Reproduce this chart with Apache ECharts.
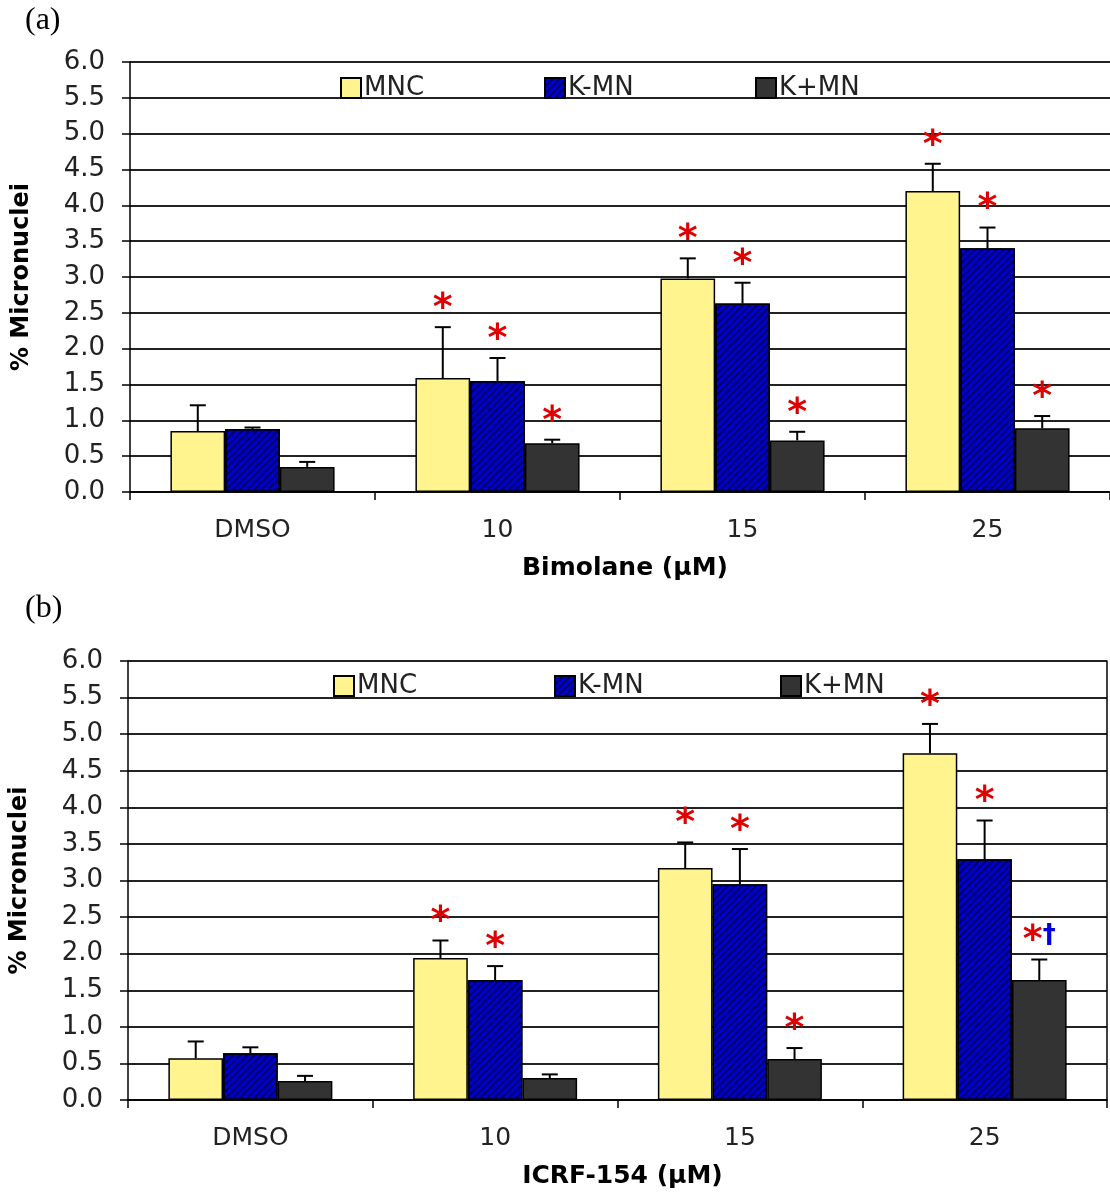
<!DOCTYPE html>
<html><head><meta charset="utf-8">
<script src="https://cdn.jsdelivr.net/npm/echarts@6/dist/echarts.min.js"></script>
<style>html,body{margin:0;padding:0;background:#fff}#c{width:1110px;height:1195px}</style>
</head><body><div id="c"></div>
<script>
var categories = ['DMSO', '10', '15', '25'];
var seriesNames = ['MNC', 'K-MN', 'K+MN'];
var yTicks = [0, 0.5, 1.0, 1.5, 2.0, 2.5, 3.0, 3.5, 4.0, 4.5, 5.0, 5.5, 6.0];
// Panel (a): Bimolane
var mncA = [0.85, 1.59, 2.98, 4.20];
var kmnA = [0.88, 1.55, 2.63, 3.40];
var kpmA = [0.35, 0.68, 0.72, 0.89];
var mncAErr = [0.36, 0.71, 0.28, 0.38];
var kmnAErr = [0.02, 0.32, 0.29, 0.29];
var kpmAErr = [0.07, 0.05, 0.12, 0.17];
var mncAMark = ['', '*', '*', '*'];
var kmnAMark = ['', '*', '*', '*'];
var kpmAMark = ['', '*', '*', '*'];
// Panel (b): ICRF-154
var mncB = [0.57, 1.94, 3.17, 4.74];
var kmnB = [0.64, 1.64, 2.95, 3.29];
var kpmB = [0.26, 0.30, 0.56, 1.64];
var mncBErr = [0.23, 0.24, 0.35, 0.40];
var kmnBErr = [0.08, 0.19, 0.48, 0.53];
var kpmBErr = [0.07, 0.05, 0.15, 0.28];
var mncBMark = ['', '*', '*', '*'];
var kmnBMark = ['', '*', '*', '*'];
var kpmBMark = ['', '', '*', '*†'];

var FONT = 'DejaVu Sans';
var colors = ['#FFF48E', '#0000CC', '#333333'];
var GAP = 0.33;

function barStyle(i) {
  var s = {color: colors[i], borderColor: '#000', borderWidth: 1.5};
  if (i === 1) {
    s.decal = {symbol: 'rect', symbolSize: 1, dashArrayX: [[1, 0]], dashArrayY: [1.5, 3], rotation: -Math.PI / 4, color: '#00006a'};
  }
  return s;
}

function errSeries(xi, yi, idx, vals, errs, marks) {
  var data = vals.map(function (v, k) { return [k, v, errs[k], marks[k]]; });
  return {
    type: 'custom', xAxisIndex: xi, yAxisIndex: yi, z: 5, silent: true,
    data: data,
    renderItem: function (params, api) {
      var k = api.value(0), v = api.value(1), e = api.value(2);
      var m = data[params.dataIndex][3];
      var bw = api.size([1, 0])[0] * (1 - GAP) / 3;
      var off = (idx - 1) * bw;
      var p0 = api.coord([k, v]);
      var p1 = api.coord([k, v + e]);
      var x = p0[0] + off;
      var children = [
        {type: 'line', shape: {x1: x, y1: p0[1], x2: x, y2: p1[1]}, style: {stroke: '#000', lineWidth: 2}},
        {type: 'line', shape: {x1: x - 8, y1: p1[1], x2: x + 8, y2: p1[1]}, style: {stroke: '#000', lineWidth: 2}}
      ];
      if (m) {
        var rich = m.indexOf('†') >= 0;
        children.push({
          type: 'text', x: x, y: p1[1] + 1,
          style: rich ? {
            text: '{a|*}{b|†}', align: 'center', verticalAlign: 'bottom',
            rich: {a: {fill: '#E00000', fontSize: 38, fontWeight: 'bold', fontFamily: FONT},
                   b: {fill: '#0000DD', fontSize: 26, fontWeight: 'bold', fontFamily: FONT, padding: [0, 0, 10, 0]}}
          } : {text: '*', fill: '#E00000', fontSize: 38, fontWeight: 'bold', fontFamily: FONT, align: 'center', verticalAlign: 'bottom'}
        });
      }
      return {type: 'group', children: children};
    }
  };
}

function xAxisCfg(gi, name) {
  return {
    type: 'category', gridIndex: gi, data: categories,
    axisLine: {lineStyle: {color: '#000', width: 1.5}},
    axisTick: {show: true, length: 8, lineStyle: {color: '#000', width: 1.5}},
    axisLabel: {fontFamily: FONT, fontSize: 25, color: '#222', margin: 26},
    name: name, nameLocation: 'middle', nameGap: 64,
    nameTextStyle: {fontFamily: FONT, fontSize: 25, fontWeight: 'bold', color: '#000', padding: [0, 0, 0, 10]}
  };
}
function yAxisCfg(gi) {
  return {
    type: 'value', gridIndex: gi, min: 0, max: 6, interval: 0.5,
    axisLine: {show: true, lineStyle: {color: '#000', width: 1.5}},
    axisTick: {show: true, length: 8, lineStyle: {color: '#000', width: 1.5}},
    axisLabel: {fontFamily: FONT, fontSize: 26, color: '#222', margin: 25,
      formatter: function (v) { return v.toFixed(1); }},
    splitLine: {show: true, lineStyle: {color: '#222', width: 2}},
    name: '% Micronuclei', nameLocation: 'middle', nameGap: 96, nameRotate: 90,
    nameTextStyle: {fontFamily: FONT, fontSize: 24, fontWeight: 'bold', color: '#000'}
  };
}
function legendCfg(name, left, top) {
  return {
    data: [name], left: left, top: top, itemWidth: 20, itemHeight: 20, itemGap: 4,
    icon: 'rect', selectedMode: false,
    textStyle: {fontFamily: FONT, fontSize: 26, color: '#222', padding: [0, 0, 0, -2]}
  };
}

var series = [];
var setsA = [[mncA, mncAErr, mncAMark], [kmnA, kmnAErr, kmnAMark], [kpmA, kpmAErr, kpmAMark]];
var setsB = [[mncB, mncBErr, mncBMark], [kmnB, kmnBErr, kmnBMark], [kpmB, kpmBErr, kpmBMark]];
[setsA, setsB].forEach(function (sets, gi) {
  sets.forEach(function (s, i) {
    series.push({
      name: seriesNames[i], type: 'bar', xAxisIndex: gi, yAxisIndex: gi * 2,
      data: s[0], barGap: '0%', barCategoryGap: (GAP * 100) + '%',
      itemStyle: barStyle(i)
    });
  });
  sets.forEach(function (s, i) {
    series.push(errSeries(gi, gi * 2, i, s[0], s[1], s[2]));
  });
});

var rightAxis = function (gi) {
  return {type: 'value', gridIndex: gi, min: 0, max: 6, position: 'right',
    axisLine: {show: true, lineStyle: {color: '#000', width: 1.5}},
    axisTick: {show: false}, axisLabel: {show: false}, splitLine: {show: false}};
};

var option = {
  animation: false,
  backgroundColor: '#fff',
  title: [
    {text: '(a)', left: 20, top: 0, textStyle: {fontFamily: 'Liberation Serif', fontSize: 32, fontWeight: 'normal', color: '#000'}},
    {text: '(b)', left: 20, top: 588, textStyle: {fontFamily: 'Liberation Serif', fontSize: 32, fontWeight: 'normal', color: '#000'}}
  ],
  legend: [
    legendCfg('MNC', 335, 70), legendCfg('K-MN', 539, 70), legendCfg('K+MN', 750, 70),
    legendCfg('MNC', 328, 668), legendCfg('K-MN', 549, 668), legendCfg('K+MN', 775, 668)
  ],
  grid: [
    {left: 130, top: 62, width: 984, height: 430},
    {left: 123, top: 661, width: 984, height: 439}
  ],
  xAxis: [xAxisCfg(0, 'Bimolane (µM)'), xAxisCfg(1, 'ICRF-154 (µM)')],
  yAxis: [yAxisCfg(0), {type: 'value', gridIndex: 0, min: 0, max: 6, show: false}, yAxisCfg(1), rightAxis(1)],
  series: series
};
var chart = echarts.init(document.getElementById('c'));
chart.setOption(option);
</script></body></html>
